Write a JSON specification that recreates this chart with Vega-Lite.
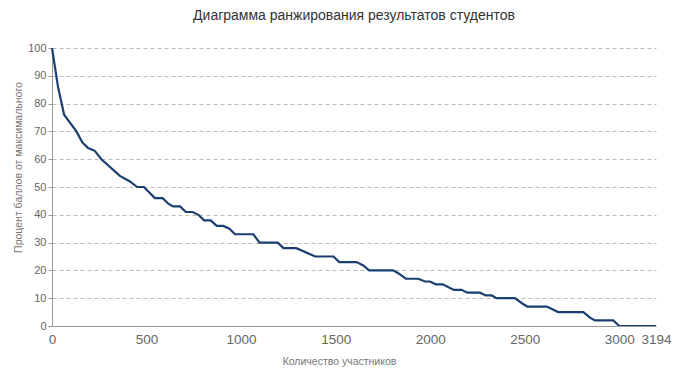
{
  "$schema": "https://vega.github.io/schema/vega-lite/v6.json",
  "autosize": {"type": "none"},
  "width": 604,
  "height": 278,
  "padding": {"left": 52, "top": 48, "right": 25, "bottom": 46},
  "background": "white",
  "title": {
    "text": "Диаграмма ранжирования результатов студентов",
    "font": "Liberation Sans",
    "fontSize": 14,
    "fontWeight": "normal",
    "color": "#333333",
    "offset": 19,
    "anchor": "middle"
  },
  "config": {
    "view": {"stroke": null},
    "font": "Liberation Sans"
  },
  "data": {
    "values": [
      {"n": 0, "p": 100},
      {"n": 32, "p": 86},
      {"n": 64, "p": 76},
      {"n": 129, "p": 70},
      {"n": 161, "p": 66},
      {"n": 191, "p": 64},
      {"n": 226, "p": 63},
      {"n": 261, "p": 60},
      {"n": 359, "p": 54},
      {"n": 412, "p": 52},
      {"n": 450, "p": 50},
      {"n": 486, "p": 50},
      {"n": 544, "p": 46},
      {"n": 585, "p": 46},
      {"n": 615, "p": 44},
      {"n": 641, "p": 43},
      {"n": 677, "p": 43},
      {"n": 708, "p": 41},
      {"n": 743, "p": 41},
      {"n": 774, "p": 40},
      {"n": 804, "p": 38},
      {"n": 839, "p": 38},
      {"n": 871, "p": 36},
      {"n": 906, "p": 36},
      {"n": 938, "p": 35},
      {"n": 968, "p": 33},
      {"n": 1065, "p": 33},
      {"n": 1097, "p": 30},
      {"n": 1194, "p": 30},
      {"n": 1224, "p": 28},
      {"n": 1292, "p": 28},
      {"n": 1392, "p": 25},
      {"n": 1489, "p": 25},
      {"n": 1519, "p": 23},
      {"n": 1610, "p": 23},
      {"n": 1646, "p": 21.8},
      {"n": 1677, "p": 20},
      {"n": 1804, "p": 20},
      {"n": 1831, "p": 19},
      {"n": 1871, "p": 17},
      {"n": 1937, "p": 17},
      {"n": 1972, "p": 16},
      {"n": 1998, "p": 16},
      {"n": 2030, "p": 15},
      {"n": 2066, "p": 15},
      {"n": 2125, "p": 13},
      {"n": 2166, "p": 13},
      {"n": 2196, "p": 12},
      {"n": 2263, "p": 12},
      {"n": 2293, "p": 11},
      {"n": 2325, "p": 11},
      {"n": 2351, "p": 10},
      {"n": 2448, "p": 10},
      {"n": 2489, "p": 8},
      {"n": 2513, "p": 7},
      {"n": 2616, "p": 7},
      {"n": 2677, "p": 5},
      {"n": 2810, "p": 5},
      {"n": 2845, "p": 3},
      {"n": 2871, "p": 2},
      {"n": 2968, "p": 2},
      {"n": 3000, "p": 0},
      {"n": 3194, "p": 0}
    ]
  },
  "mark": {"type": "line", "color": "#1b3f70", "strokeWidth": 2.2, "interpolate": "linear"},
  "encoding": {
    "x": {
      "field": "n",
      "type": "quantitative",
      "scale": {"domain": [0, 3194], "nice": false, "zero": true},
      "axis": {
        "title": "Количество участников",
        "values": [0, 500, 1000, 1500, 2000, 2500, 3000, 3194],
        "format": "d",
        "grid": false,
        "ticks": false,
        "domainColor": "#999999",
        "domainWidth": 1,
        "labelFont": "Liberation Sans",
        "labelFontSize": 13.5,
        "labelColor": "#666666",
        "labelPadding": 6,
        "labelFlush": false,
        "titleFont": "Liberation Sans",
        "titleFontSize": 10.5,
        "titleFontWeight": "normal",
        "titleColor": "#777777",
        "titlePadding": 11,
        "titleX": 287,
        "zindex": 1
      }
    },
    "y": {
      "field": "p",
      "type": "quantitative",
      "scale": {"domain": [0, 100], "nice": false},
      "axis": {
        "title": "Процент баллов от максимального",
        "values": [0, 10, 20, 30, 40, 50, 60, 70, 80, 90, 100],
        "grid": true,
        "gridColor": "#bbbbbb",
        "gridDash": [4, 3],
        "gridWidth": 1,
        "ticks": true,
        "tickSize": 4,
        "tickColor": "#999999",
        "domainColor": "#999999",
        "labelFont": "Liberation Sans",
        "labelFontSize": 11,
        "labelColor": "#666666",
        "labelPadding": 2,
        "titleFont": "Liberation Sans",
        "titleFontSize": 10.5,
        "titleFontWeight": "normal",
        "titleColor": "#777777",
        "titlePadding": 4,
        "titleY": 119,
        "zindex": 0
      }
    }
  }
}
